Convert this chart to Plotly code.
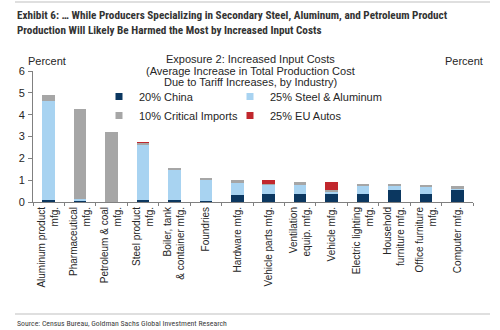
import plotly.graph_objects as go

# Industries, with line breaks as printed under the axis
industries = [
    "Aluminum product<br>mfg.",
    "Pharmaceutical<br>mfg.",
    "Petroleum & coal<br>mfg.",
    "Steel product<br>mfg.",
    "Boiler, tank<br>& container mfg.",
    "Foundries",
    "Hardware mfg.",
    "Vehicle parts mfg.",
    "Ventilation<br>equip. mfg.",
    "Vehicle mfg.",
    "Electric lighting<br>mfg.",
    "Household<br>furniture mfg.",
    "Office furniture<br>mfg.",
    "Computer mfg.",
]

# Average increase in total production cost (percent), by tariff
china_20 = [0.08, 0.07, 0.01, 0.11, 0.10, 0.05, 0.30, 0.38, 0.35, 0.38, 0.38, 0.55, 0.38, 0.58]
steel_alu_25 = [4.55, 0.05, 0.00, 2.48, 1.35, 0.95, 0.57, 0.40, 0.45, 0.12, 0.37, 0.20, 0.34, 0.02]
critical_10 = [0.27, 4.15, 3.20, 0.12, 0.10, 0.12, 0.16, 0.05, 0.10, 0.04, 0.06, 0.06, 0.06, 0.12]
eu_autos_25 = [0.00, 0.00, 0.00, 0.03, 0.00, 0.00, 0.00, 0.17, 0.00, 0.36, 0.00, 0.00, 0.00, 0.00]

y_ticks = [0, 1, 2, 3, 4, 5, 6]

W, H = 500, 330
L, R, T, B = 33, 27, 71, 128
PW, PH = W - L - R, H - T - B


def px(x):
    return (x - L) / PW


def py(y):
    return (H - B - y) / PH


NAVY = "#0b3760"
LIGHT = "#a8d3f1"
GRAY = "#a6a6a6"
RED = "#c1272d"
AXIS = "#808080"
TEXT = "#262626"
FONT = "Liberation Sans, Arial, sans-serif"
NARROW = "Roboto Condensed, Open Sans Condensed, sans-serif"

series = [
    ("20% China", china_20, NAVY, "legend"),
    ("25% Steel & Aluminum", steel_alu_25, LIGHT, "legend2"),
    ("10% Critical Imports", critical_10, GRAY, "legend"),
    ("25% EU Autos", eu_autos_25, RED, "legend2"),
]

fig = go.Figure()
for name, vals, color, leg in series:
    fig.add_trace(go.Bar(
        x=industries, y=vals, name=name, legendgroup=name,
        marker=dict(color=color, line=dict(width=0)),
        showlegend=False,
    ))
# compact square swatches for the legend entries
for name, vals, color, leg in series:
    fig.add_trace(go.Scatter(
        x=[None], y=[None], mode="markers", name=name, legendgroup=name,
        marker=dict(symbol="square", size=7, color=color), legend=leg,
    ))

fig.update_layout(
    width=W, height=H,
    margin=dict(l=L, r=R, t=T, b=B),
    paper_bgcolor="white", plot_bgcolor="white",
    barmode="stack", bargap=0.6,
    font=dict(family=FONT, size=11, color=TEXT),
    legend=dict(
        x=px(99), y=py(82), xanchor="left", yanchor="top",
        traceorder="normal", bgcolor="rgba(0,0,0,0)",
        font=dict(size=11), itemwidth=30, tracegroupgap=0,
    ),
    legend2=dict(
        x=px(230), y=py(82), xanchor="left", yanchor="top",
        traceorder="normal", bgcolor="rgba(0,0,0,0)",
        font=dict(size=11), itemwidth=30, tracegroupgap=0,
    ),
    xaxis=dict(
        type="category", tickangle=-90, tickson="boundaries",
        ticks="outside", ticklen=3, tickcolor=AXIS,
        showline=True, linecolor=AXIS, linewidth=1,
        showgrid=False, tickfont=dict(size=10, color=TEXT),
    ),
    yaxis=dict(
        range=[0, 6], tickvals=y_ticks, ticks="outside", ticklen=4,
        tickcolor=AXIS, showline=True, linecolor=AXIS, linewidth=1,
        showgrid=False, zeroline=False, tickfont=dict(size=11, color=TEXT),
        ticklabelstandoff=1,
    ),
    yaxis2=dict(
        range=[0, 6], tickvals=y_ticks, overlaying="y", side="right",
        ticks="outside", ticklen=4, tickcolor=AXIS, showline=True,
        linecolor=AXIS, linewidth=1, showgrid=False, zeroline=False,
        tickfont=dict(size=11, color=TEXT),
    ),
)

subtitle_lines = [
    ("Exposure 2: Increased Input Costs", 59),
    ("(Average Increase in Total Production Cost", 70.5),
    ("Due to Tariff Increases, by Industry)", 82),
]

annotations = [
    dict(text="<b>Exhibit 6: … While Producers Specializing in Secondary Steel, Aluminum, and Petroleum Product"
              "<br>Production Will Likely Be Harmed the Most by Increased Input Costs</b>",
         x=px(15), y=py(7), xanchor="left", yanchor="top", align="left",
         font=dict(family=NARROW, size=11.2, color="#333333")),
    dict(text="Percent", x=px(26), y=py(61), xanchor="left", yanchor="middle",
         font=dict(size=11, color=TEXT)),
    dict(text="Percent", x=px(485), y=py(61), xanchor="right", yanchor="middle",
         font=dict(size=11, color=TEXT)),
    dict(text="Source: Census Bureau, Goldman Sachs Global Investment Research",
         x=px(15), y=py(323), xanchor="left", yanchor="middle",
         font=dict(family=NARROW, size=7.8, color="#404040")),
]
for line, ypix in subtitle_lines:
    annotations.append(dict(text=line, x=px(250), y=py(ypix), xanchor="center",
                            yanchor="middle", font=dict(size=11, color=TEXT)))
for a in annotations:
    a.update(xref="paper", yref="paper", showarrow=False)
fig.update_layout(annotations=annotations)

for yline in (2, 314):
    fig.add_shape(type="line", xref="paper", yref="paper",
                  x0=px(15), x1=px(490), y0=py(yline), y1=py(yline),
                  line=dict(color="#bfbfbf", width=1))

fig.write_html("out.html")
